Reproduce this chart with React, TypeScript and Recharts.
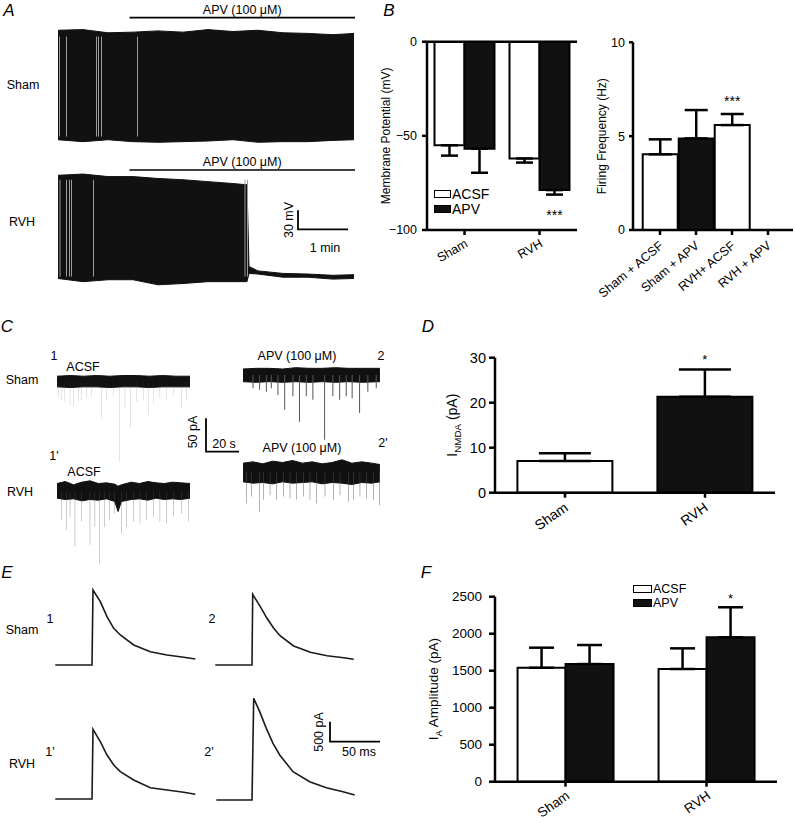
import React from "react";
import {
  Area,
  Bar,
  BarChart,
  Cell,
  ComposedChart,
  ErrorBar,
  LabelList,
  Legend,
  Line,
  ReferenceLine,
  XAxis,
  YAxis,
} from "recharts";

const FONT = '"Liberation Sans", Arial, Helvetica, sans-serif';
const INK = "#111";

// ---------- A: whole-cell current clamp (time in min, mV) ----------
const aShamT = [0, 0.5, 1, 1.5, 2, 2.5, 3, 3.5, 4, 4.5, 5, 5.5, 5.92];
const aShamTop = [110, 111, 106, 107, 109, 107, 111, 108, 110, 106, 105, 103, 105];
const aShamBottom = [-63, -66, -63, -66, -67, -66, -65, -63, -67, -66, -66, -64, -63];
const aShamGaps = [0.03, 0.17, 0.77, 0.81, 0.87, 1.59];

const aRvhT = [0, 0.5, 1, 1.5, 2, 2.5, 3, 3.5, 3.78, 3.82, 4, 4.5, 5, 5.5, 5.92];
const aRvhTop = [102, 104, 100, 100, 97, 95, 92, 89, 87, -42, -49, -53, -54, -56, -55];
const aRvhBottom = [-61, -66, -63, -63, -71, -69, -66, -66, -66, -53, -54, -59, -59, -62, -61];
const aRvhGaps = [0.04, 0.17, 0.23, 0.27, 0.71, 3.74, 3.79];
const apvStartMin = 1.43;

// ---------- C: sEPSCs (time in s, pA) ----------
const cShamAcsfEnvT = [0, 8, 16, 24, 32, 40, 48, 56, 64, 72, 80.6];
const cShamAcsfHi = [8, 9, 8, 9, 8, 9, 9, 8, 9, 8, 8];
const cShamAcsfLo = [-8, -9, -8, -8, -9, -8, -8, -9, -8, -8, -8];
const cShamAcsfSpT = [0.8, 2.8, 4.8, 7.9, 9.9, 12.9, 15, 18, 21, 27, 30, 34, 37.8, 41.2, 44.7, 48.3, 52.3, 55.3, 58.4, 62.4, 66.5, 70.5, 75.2, 78.6];
const cShamAcsfSp = [-25, -28, -30, -35, -38, -30, -28, -25, -23, -55, -28, -23, -120, -38, -70, -30, -28, -50, -33, -25, -28, -20, -40, -28];

const cShamApvEnvT = [0, 8, 16, 24, 32, 40, 48, 56, 64, 72, 83];
const cShamApvHi = [9, 10, 10, 9, 11, 10, 10, 11, 10, 10, 10];
const cShamApvLo = [-10, -11, -10, -11, -10, -11, -10, -11, -10, -11, -10];
const cShamApvSpT = [6.3, 10.3, 14.4, 17.4, 21.4, 25.5, 30.5, 34.5, 38.6, 42.6, 49.7, 54.7, 58.8, 62.8, 66.4, 70.9, 75.9, 81];
const cShamApvSp = [-20, -22, -25, -20, -30, -52, -32, -70, -32, -37, -97, -32, -37, -32, -35, -57, -25, -20];

const cRvhAcsfEnvT = [0, 5, 10, 15, 20, 25, 30, 35, 37, 39, 45, 50, 55, 60, 65, 70, 75, 80.6];
const cRvhAcsfHi = [12, 15, 10, 14, 16, 12, 13, 11, 8, 10, 14, 12, 15, 13, 12, 14, 13, 12];
const cRvhAcsfLo = [-10, -12, -11, -14, -12, -13, -11, -15, -30, -15, -12, -11, -13, -10, -12, -11, -12, -10];
const cRvhAcsfSpT = [2.8, 5.9, 7.9, 10.9, 15, 20, 23, 25.6, 29, 32, 35, 39.2, 42.2, 46.2, 50.3, 54.4, 58.4, 62.4, 66.5, 70.5, 75.6, 79.6];
const cRvhAcsfSp = [-43, -58, -38, -83, -45, -80, -53, -108, -53, -43, -33, -63, -53, -45, -48, -43, -38, -45, -48, -38, -33, -45];

const cRvhApvEnvT = [0, 6, 12, 18, 24, 30, 36, 42, 48, 54, 60, 66, 72, 78, 83];
const cRvhApvHi = [14, 16, 13, 17, 15, 18, 14, 16, 13, 15, 19, 14, 16, 14, 12];
const cRvhApvLo = [-14, -16, -15, -17, -14, -16, -15, -14, -17, -15, -16, -18, -15, -16, -14];
const cRvhApvSpT = [2.2, 5.3, 9.9, 12.3, 16.4, 20.4, 24.4, 28.5, 32.5, 36.6, 40.6, 44.6, 49.7, 54.7, 58.8, 63.8, 66.9, 70.9, 75, 79, 82.6];
const cRvhApvSp = [-46, -36, -59, -41, -34, -41, -36, -39, -41, -36, -41, -46, -36, -41, -34, -44, -41, -36, -39, -41, -49];

// ---------- E: I_A traces (ms, pA) ----------
const eShamAcsfT = [-36.7, 0, 1, 8.3, 15, 21.7, 28.3, 41.7, 58.3, 75, 91.7, 103.3];
const eShamAcsf = [0, 0, 1875, 1583, 1208, 917, 750, 500, 333, 250, 192, 150];
const eShamApvT = [-36.7, 0, 0.7, 8.3, 15, 21.7, 28.3, 41.7, 58.3, 75, 91.7, 101.7];
const eShamApv = [0, 0, 1767, 1458, 1167, 917, 725, 475, 317, 233, 183, 142];
const eRvhAcsfT = [-36.7, 0, 1, 8.3, 15, 21.7, 28.3, 41.7, 58.3, 75, 91.7, 103.3];
const eRvhAcsf = [0, 0, 1742, 1433, 1100, 850, 683, 475, 283, 225, 167, 117];
const eRvhApvT = [-35.7, 0, 1.7, 7.7, 14.3, 21, 27.7, 41, 57.7, 74.3, 91, 102.7];
const eRvhApv = [0, 0, 2542, 2208, 1792, 1417, 1125, 708, 458, 308, 208, 125];

// scale bars (L shapes)
const scaleAT = [0, 0, 1];
const scaleAV = [30, 0, 0];
const scaleCT = [0, 0, 20];
const scaleCV = [50, 0, 0];
const scaleET = [0, 0, 50];
const scaleEV = [500, 0, 0];

// ---------- B: membrane potential & firing ----------
const vmGroups = ["Sham", "RVH"];
const vmAcsf = [-55, -62];
const vmAcsfErr = [5.5, 2.2];
const vmApv = [-56.8, -78.8];
const vmApvErr = [12.8, 2.4];
const vmApvSig = ["", "***"];
const vmTicks = [-100, -50, 0];

const frGroups = ["Sham + ACSF", "Sham + APV", "RVH+ ACSF", "RVH + APV"];
const frValues = [4.03, 4.88, 5.59, 0];
const frErr = [0.8, 1.51, 0.59, 0];
const frSig = ["", "", "***", ""];
const frTicks = [0, 5, 10];

// ---------- D: I_NMDA ----------
const nmdaGroups = ["Sham", "RVH"];
const nmdaValues = [7.04, 21.3];
const nmdaErr = [1.7, 6.1];
const nmdaSig = ["", "*"];
const nmdaTicks = [0, 10, 20, 30];

// ---------- F: I_A amplitude ----------
const iaGroups = ["Sham", "RVH"];
const iaAcsf = [1540, 1523];
const iaAcsfErr = [271, 279];
const iaApv = [1590, 1951];
const iaApvErr = [257, 406];
const iaApvSig = ["", "*"];
const iaTicks = [0, 500, 1000, 1500, 2000, 2500];

// ---------- rows ----------
const envRows = (t: number[], lo: number[], hi: number[]) => t.map((x, i) => ({ t: x, env: [lo[i], hi[i]] }));
const spikeRows = (envT: number[], lo: number[], hi: number[], spT: number[], sp: number[]) =>
  [...envRows(envT, lo, hi), ...spT.map((x, i) => ({ t: x, spike: [sp[i], 0] }))].sort((a, b) => a.t - b.t);
const lineRows = (t: number[], v: number[]) => t.map((x, i) => ({ t: x, v: v[i] }));

const vmRows = vmGroups.map((g, i) => ({
  g,
  acsf: vmAcsf[i],
  apv: vmApv[i],
  acsfErr: [vmAcsfErr[i], 0],
  apvErr: [vmApvErr[i], 0],
  apvSig: vmApvSig[i],
}));
const frRows = frGroups.map((g, i) => ({ g, v: frValues[i], err: [0, frErr[i]], sig: frSig[i] }));
const nmdaRows = nmdaGroups.map((g, i) => ({ g, v: nmdaValues[i], err: [0, nmdaErr[i]], sig: nmdaSig[i] }));
const iaRows = iaGroups.map((g, i) => ({
  g,
  acsf: iaAcsf[i],
  apv: iaApv[i],
  acsfErr: [0, iaAcsfErr[i]],
  apvErr: [0, iaApvErr[i]],
  apvSig: iaApvSig[i],
}));

// ---------- helpers ----------
const axisStyle = { stroke: "#000", strokeWidth: 2.5 };
const minus = (v: number) => (v < 0 ? `\u2212${Math.abs(v)}` : `${v}`);

const rotTick = (angle: number, fs: number, dx: number, dy: number) => (p: any) => (
  <text
    transform={`translate(${p.x + dx},${p.y + dy}) rotate(${angle})`}
    textAnchor="end"
    fontSize={fs}
    fontFamily={FONT}
    fill="#000"
  >
    {p.payload.value}
  </text>
);

const yLabel = (parts: React.ReactNode, dx: number, fs: number) => (props: any) => {
  const vb = props.viewBox || {};
  const cx = (vb.x ?? 0) + dx;
  const cy = (vb.y ?? 0) + (vb.height ?? 0) / 2;
  return (
    <text transform={`translate(${cx},${cy}) rotate(-90)`} textAnchor="middle" fontSize={fs} fontFamily={FONT} fill="#000">
      {parts}
    </text>
  );
};

const sigContent = (rows: any[], valKey: string, errKey: string, sigKey: string, fs: number, gap: number) => (props: any) => {
  const { value, viewBox } = props;
  if (!value || !viewBox) return null;
  const row = rows.find((r) => r[sigKey] === value);
  if (!row) return null;
  const v = row[valKey];
  const e = row[errKey];
  const top = Math.min(viewBox.y, viewBox.y + viewBox.height);
  const h = Math.abs(viewBox.height);
  const px = h / Math.abs(v);
  const cx = viewBox.x + viewBox.width / 2;
  const ty = v >= 0 ? top - e[1] * px - gap : top + h + e[0] * px + gap;
  return (
    <text x={cx} y={ty} textAnchor="middle" fontSize={fs} fontFamily={FONT} fill="#000">
      {value}
    </text>
  );
};

const legendContent = (fs: number, bw: number, bh: number, rowH: number) => (props: any) => (
  <div style={{ fontFamily: FONT, fontSize: fs, color: "#000" }}>
    {(props.payload || []).map((p: any) => (
      <div key={p.value} style={{ display: "flex", alignItems: "center", height: rowH }}>
        <span
          style={{
            display: "inline-block",
            boxSizing: "border-box",
            width: bw,
            height: bh,
            background: p.value === "APV" ? INK : "#fff",
            border: "1.5px solid #000",
            marginRight: 1,
          }}
        />
        <span style={{ lineHeight: 1 }}>{p.value}</span>
      </div>
    ))}
  </div>
);

function Txt({ x, y, size = 12.5, rot = 0, italic = false, children }: any) {
  return (
    <div
      style={{
        position: "absolute",
        left: x,
        top: y,
        transform: `translate(-50%,-50%) rotate(${rot}deg)`,
        fontSize: size,
        fontStyle: italic ? "italic" : "normal",
        whiteSpace: "nowrap",
        lineHeight: 1,
      }}
    >
      {children}
    </div>
  );
}

function Trace({ box, xDomain, yDomain, data, children }: any) {
  const [left, top, width, height] = box;
  return (
    <div style={{ position: "absolute", left, top }}>
      <ComposedChart width={width} height={height} data={data} margin={{ top: 0, right: 0, bottom: 0, left: 0 }}>
        <XAxis dataKey="t" type="number" domain={xDomain} allowDataOverflow hide />
        <YAxis type="number" domain={yDomain} allowDataOverflow hide />
        {children}
      </ComposedChart>
    </div>
  );
}

const blockArea = (
  <Area
    type="linear"
    dataKey="env"
    stroke={INK}
    strokeWidth={1}
    fill={INK}
    fillOpacity={1}
    connectNulls
    dot={false}
    activeDot={false}
    isAnimationActive={false}
  />
);
const spikeBars = <Bar dataKey="spike" barSize={1} fill="#555" isAnimationActive={false} />;
const traceLine = <Line type="linear" dataKey="v" stroke="#1a1a1a" strokeWidth={1.6} dot={false} isAnimationActive={false} />;
const scaleLine = <Line type="linear" dataKey="v" stroke="#000" strokeWidth={1.8} dot={false} isAnimationActive={false} />;

export default function App() {
  return (
    <div
      style={{
        position: "absolute",
        left: 0,
        top: 0,
        width: 795,
        height: 823,
        background: "#fff",
        fontFamily: FONT,
        color: "#000",
        overflow: "hidden",
      }}
    >
      {/* panel letters */}
      <Txt x={9} y={10} size={17} italic>A</Txt>
      <Txt x={389} y={10} size={17} italic>B</Txt>
      <Txt x={7} y={326} size={17} italic>C</Txt>
      <Txt x={428} y={326} size={17} italic>D</Txt>
      <Txt x={7} y={572} size={17} italic>E</Txt>
      <Txt x={426} y={572} size={17} italic>F</Txt>

      {/* ---- A ---- */}
      <Txt x={23} y={85}>Sham</Txt>
      <Txt x={22} y={222}>RVH</Txt>
      <Trace box={[58, 0, 297, 145]} xDomain={[0, 5.94]} yDomain={[-71.3, 157.8]} data={envRows(aShamT, aShamBottom, aShamTop)}>
        {blockArea}
        {aShamGaps.map((g) => (
          <ReferenceLine key={g} segment={[{ x: g, y: -58 }, { x: g, y: 100 }]} stroke="#9a9a9a" strokeWidth={1} />
        ))}
        <ReferenceLine
          segment={[{ x: apvStartMin, y: 130 }, { x: 5.94, y: 130 }]}
          stroke="#000"
          strokeWidth={1.6}
          label={{ value: "APV (100 \u03bcM)", position: "top", offset: 4, fontSize: 12.5, fill: "#000" }}
        />
      </Trace>
      <Trace box={[58, 145, 297, 145]} xDomain={[0, 5.94]} yDomain={[-79.2, 149.9]} data={envRows(aRvhT, aRvhBottom, aRvhTop)}>
        {blockArea}
        {aRvhGaps.map((g) => (
          <ReferenceLine key={g} segment={[{ x: g, y: -58 }, { x: g, y: 95 }]} stroke="#9a9a9a" strokeWidth={1} />
        ))}
        <ReferenceLine
          segment={[{ x: apvStartMin, y: 110.4 }, { x: 5.94, y: 110.4 }]}
          stroke="#000"
          strokeWidth={1.6}
          label={{ value: "APV (100 \u03bcM)", position: "top", offset: 4.5, fontSize: 12.5, fill: "#000" }}
        />
      </Trace>
      <Trace box={[293, 205, 60, 30]} xDomain={[-0.1, 1.1]} yDomain={[-9, 38.4]} data={lineRows(scaleAT, scaleAV)}>
        {scaleLine}
      </Trace>
      <Txt x={289} y={220} rot={-90}>30 mV</Txt>
      <Txt x={325} y={248}>1 min</Txt>

      {/* ---- C ---- */}
      <Txt x={54} y={356}>1</Txt>
      <Txt x={83} y={367}>ACSF</Txt>
      <Txt x={22} y={380}>Sham</Txt>
      <Txt x={297} y={356}>APV (100 μM)</Txt>
      <Txt x={381} y={356}>2</Txt>
      <Txt x={54} y={456}>1'</Txt>
      <Txt x={84} y={472}>ACSF</Txt>
      <Txt x={20} y={492}>RVH</Txt>
      <Txt x={302} y={448}>APV (100 μM)</Txt>
      <Txt x={383} y={443}>2'</Txt>
      <Txt x={193} y={432} rot={-90}>50 pA</Txt>
      <Txt x={224} y={444}>20 s</Txt>
      <Trace box={[57, 370, 133, 95]} xDomain={[0, 80.6]} yDomain={[-125.3, 17.3]}
        data={spikeRows(cShamAcsfEnvT, cShamAcsfLo, cShamAcsfHi, cShamAcsfSpT, cShamAcsfSp)}>
        {spikeBars}
        {blockArea}
      </Trace>
      <Trace box={[243, 360, 137, 85]} xDomain={[0, 83.03]} yDomain={[-105, 22.5]}
        data={spikeRows(cShamApvEnvT, cShamApvLo, cShamApvHi, cShamApvSpT, cShamApvSp)}>
        {spikeBars}
        {blockArea}
      </Trace>
      <Trace box={[57, 475, 133, 95]} xDomain={[0, 80.6]} yDomain={[-117.75, 24.75]}
        data={spikeRows(cRvhAcsfEnvT, cRvhAcsfLo, cRvhAcsfHi, cRvhAcsfSpT, cRvhAcsfSp)}>
        {spikeBars}
        {blockArea}
      </Trace>
      <Trace box={[243, 455, 137, 60]} xDomain={[0, 83.03]} yDomain={[-63.75, 26.25]}
        data={spikeRows(cRvhApvEnvT, cRvhApvLo, cRvhApvHi, cRvhApvSpT, cRvhApvSp)}>
        {spikeBars}
        {blockArea}
      </Trace>
      <Trace box={[200, 412, 45, 45]} xDomain={[-3.64, 23.63]} yDomain={[-8, 59.5]} data={lineRows(scaleCT, scaleCV)}>
        {scaleLine}
      </Trace>

      {/* ---- E ---- */}
      <Txt x={50} y={619}>1</Txt>
      <Txt x={22} y={630}>Sham</Txt>
      <Txt x={212} y={619}>2</Txt>
      <Txt x={50} y={752}>1'</Txt>
      <Txt x={22} y={764}>RVH</Txt>
      <Txt x={209} y={752}>2'</Txt>
      <Txt x={319} y={732} rot={-90}>500 pA</Txt>
      <Txt x={359} y={752}>50 ms</Txt>
      <Trace box={[54.7, 580, 145, 90]} xDomain={[-37, 108]} yDomain={[-125, 2125]} data={lineRows(eShamAcsfT, eShamAcsf)}>
        {traceLine}
      </Trace>
      <Trace box={[214.7, 580, 145, 90]} xDomain={[-37, 108]} yDomain={[-125, 2125]} data={lineRows(eShamApvT, eShamApv)}>
        {traceLine}
      </Trace>
      <Trace box={[54.7, 714, 145, 90]} xDomain={[-37, 108]} yDomain={[-125, 2125]} data={lineRows(eRvhAcsfT, eRvhAcsf)}>
        {traceLine}
      </Trace>
      <Trace box={[215.3, 690, 145, 115]} xDomain={[-37, 108]} yDomain={[-125, 2750]} data={lineRows(eRvhApvT, eRvhApv)}>
        {traceLine}
      </Trace>
      <Trace box={[325, 715, 60, 32]} xDomain={[-5, 55]} yDomain={[-132.5, 667.5]} data={lineRows(scaleET, scaleEV)}>
        {scaleLine}
      </Trace>

      {/* ---- B left: membrane potential ---- */}
      <div style={{ position: "absolute", left: 360, top: 30 }}>
        <BarChart width={225} height={240} data={vmRows} margin={{ top: 11.7, right: 8, bottom: 10, left: 0 }} barCategoryGap="10%" barGap={0}>
          <XAxis dataKey="g" height={30} axisLine={axisStyle} tickLine={axisStyle} tickSize={5} interval={0} tick={rotTick(-30, 12.5, 4, 9)} />
          <YAxis
            width={67}
            type="number"
            domain={[-100, 0]}
            ticks={vmTicks}
            allowDataOverflow
            axisLine={axisStyle}
            tickLine={axisStyle}
            tickSize={5}
            tickMargin={5}
            tick={{ fill: "#000", fontSize: 12.5, fontFamily: FONT }}
            tickFormatter={minus}
            label={{ content: yLabel("Membrane Potential (mV)", 30, 12) }}
          />
          <ReferenceLine y={0} stroke="#000" strokeWidth={2.5} />
          <Bar dataKey="acsf" name="ACSF" fill="#fff" stroke="#000" strokeWidth={2} isAnimationActive={false}>
            <ErrorBar dataKey="acsfErr" width={8.5} stroke="#000" strokeWidth={2.5} isAnimationActive={false} />
          </Bar>
          <Bar dataKey="apv" name="APV" fill={INK} stroke="#000" strokeWidth={2} isAnimationActive={false}>
            <ErrorBar dataKey="apvErr" width={8.5} stroke="#000" strokeWidth={2.5} isAnimationActive={false} />
            <LabelList dataKey="apvSig" content={sigContent(vmRows, "apv", "apvErr", "apvSig", 14, 25)} />
          </Bar>
          <Legend
            layout="horizontal"
            verticalAlign="middle"
            align="center"
            wrapperStyle={{ left: 74, top: 156, width: 70 }}
            content={legendContent(14, 17, 8, 15)}
          />
        </BarChart>
      </div>

      {/* ---- B right: firing frequency ---- */}
      <div style={{ position: "absolute", left: 585, top: 30 }}>
        <BarChart width={210} height={280} data={frRows} margin={{ top: 12.3, right: 2, bottom: 50, left: 0 }} barCategoryGap="2%">
          <XAxis
            dataKey="g"
            height={30}
            padding={{ left: 9, right: 7 }}
            axisLine={axisStyle}
            tickLine={axisStyle}
            tickSize={5}
            interval={0}
            tick={rotTick(-40, 12.5, 4, 10)}
          />
          <YAxis
            width={48}
            type="number"
            domain={[0, 10]}
            ticks={frTicks}
            allowDataOverflow
            axisLine={axisStyle}
            tickLine={axisStyle}
            tickSize={4}
            tickMargin={4}
            tick={{ fill: "#000", fontSize: 12.5, fontFamily: FONT }}
            label={{ content: yLabel("Firing Frequency (Hz)", 21, 12) }}
          />
          <Bar dataKey="v" stroke="#000" strokeWidth={2} isAnimationActive={false}>
            {frRows.map((r) => (
              <Cell key={r.g} fill={r.g.includes("APV") ? INK : "#fff"} />
            ))}
            <ErrorBar dataKey="err" width={11.5} stroke="#000" strokeWidth={2.5} isAnimationActive={false} />
            <LabelList dataKey="sig" content={sigContent(frRows, "v", "err", "sig", 14, 8)} />
          </Bar>
        </BarChart>
      </div>

      {/* ---- D: I_NMDA ---- */}
      <div style={{ position: "absolute", left: 420, top: 340 }}>
        <BarChart width={360} height={200} data={nmdaRows} margin={{ top: 17.7, right: 5, bottom: 17.3, left: 0 }} barCategoryGap="16%">
          <XAxis dataKey="g" height={30} axisLine={axisStyle} tickLine={axisStyle} tickSize={5} interval={0} tick={rotTick(-35, 14, 4, 10)} />
          <YAxis
            width={75}
            type="number"
            domain={[0, 30]}
            ticks={nmdaTicks}
            allowDataOverflow
            axisLine={axisStyle}
            tickLine={axisStyle}
            tickSize={6}
            tickMargin={3}
            tick={{ fill: "#000", fontSize: 14.5, fontFamily: FONT }}
            label={{
              content: yLabel(
                <>
                  I<tspan fontSize="70%" dy={4}>NMDA</tspan>
                  <tspan dy={-4}> (pA)</tspan>
                </>,
                37,
                14
              ),
            }}
          />
          <Bar dataKey="v" stroke="#000" strokeWidth={2} isAnimationActive={false}>
            {nmdaRows.map((r, i) => (
              <Cell key={r.g} fill={i === 0 ? "#fff" : INK} />
            ))}
            <ErrorBar dataKey="err" width={26} stroke="#000" strokeWidth={2.5} isAnimationActive={false} />
            <LabelList dataKey="sig" content={sigContent(nmdaRows, "v", "err", "sig", 13, 5.3)} />
          </Bar>
        </BarChart>
      </div>

      {/* ---- F: I_A amplitude ---- */}
      <div style={{ position: "absolute", left: 420, top: 575 }}>
        <BarChart width={362} height={248} data={iaRows} margin={{ top: 21.7, right: 5, bottom: 11.3, left: 0 }} barCategoryGap="16%" barGap={0}>
          <XAxis dataKey="g" height={30} axisLine={axisStyle} tickLine={axisStyle} tickSize={5} interval={0} tick={rotTick(-35, 13.5, 5, 9)} />
          <YAxis
            width={75}
            type="number"
            domain={[0, 2500]}
            ticks={iaTicks}
            allowDataOverflow
            axisLine={axisStyle}
            tickLine={axisStyle}
            tickSize={6}
            tickMargin={7}
            tick={{ fill: "#000", fontSize: 13.5, fontFamily: FONT }}
            label={{
              content: yLabel(
                <>
                  I<tspan fontSize="70%" dy={4}>A</tspan>
                  <tspan dy={-4}> Amplitude (pA)</tspan>
                </>,
                18,
                13.5
              ),
            }}
          />
          <Bar dataKey="acsf" name="ACSF" fill="#fff" stroke="#000" strokeWidth={2} isAnimationActive={false}>
            <ErrorBar dataKey="acsfErr" width={12.5} stroke="#000" strokeWidth={2.5} isAnimationActive={false} />
          </Bar>
          <Bar dataKey="apv" name="APV" fill={INK} stroke="#000" strokeWidth={2} isAnimationActive={false}>
            <ErrorBar dataKey="apvErr" width={12.5} stroke="#000" strokeWidth={2.5} isAnimationActive={false} />
            <LabelList dataKey="apvSig" content={sigContent(iaRows, "apv", "apvErr", "apvSig", 13, 4)} />
          </Bar>
          <Legend
            layout="horizontal"
            verticalAlign="middle"
            align="center"
            wrapperStyle={{ left: 213, top: 7, width: 70 }}
            content={legendContent(12.5, 19, 8, 14)}
          />
        </BarChart>
      </div>
    </div>
  );
}
